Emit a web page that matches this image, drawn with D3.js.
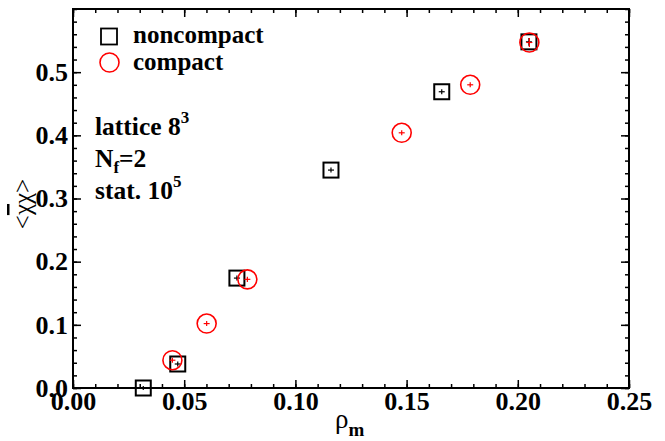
<!DOCTYPE html>
<html>
<head>
<meta charset="utf-8">
<script src="https://cdn.jsdelivr.net/npm/d3@7"></script>
<style>
  html, body { margin: 0; padding: 0; background: #fff; }
  svg { display: block; }
  text { font-family: "Liberation Serif", "Times New Roman", serif; }
</style>
</head>
<body>
<svg id="chart" width="665" height="441"></svg>
<script>
// Chiral condensate vs. monopole density, two lattice actions
const noncompactRho   = [0.0316, 0.0471, 0.0737, 0.1160, 0.1658, 0.2050];
const noncompactChi   = [0.000, 0.038, 0.174, 0.345, 0.469, 0.548];
const noncompactErr   = [0.003, 0.004, 0.004, 0.004, 0.004, 0.006];

const compactRho      = [0.0447, 0.0601, 0.0784, 0.1478, 0.1786, 0.2052];
const compactChi      = [0.044, 0.102, 0.172, 0.404, 0.480, 0.547];
const compactErr      = [0.004, 0.004, 0.004, 0.004, 0.004, 0.007];

const xMajorTicks = [0, 0.05, 0.10, 0.15, 0.20, 0.25];
const yMajorTicks = [0, 0.1, 0.2, 0.3, 0.4, 0.5];

const svg = d3.select("#chart");
const L = 73, R = 629, T = 9, B = 388;

const x = d3.scaleLinear().domain([0, 0.25]).range([L, R]);
const y = d3.scaleLinear().domain([0, 0.6]).range([B, T]);

const xMinor = d3.range(0, 0.2501, 0.01).map(v => +v.toFixed(2));
const yMinor = d3.range(0, 0.6001, 0.02).map(v => +v.toFixed(2));

function styleAxis(g) {
  g.select(".domain").remove();
  g.selectAll(".tick line").attr("stroke", "#000").attr("stroke-width", 1.5);
  g.selectAll(".tick text")
    .attr("fill", "#000")
    .style("font-family", "'Liberation Serif', serif")
    .style("font-weight", "bold")
    .style("font-size", "26px");
}

// minor ticks (inward) on all four sides
svg.append("g").attr("transform", `translate(0,${B})`)
  .call(d3.axisBottom(x).tickValues(xMinor).tickSize(-4).tickFormat(""))
  .call(styleAxis);
svg.append("g").attr("transform", `translate(0,${T})`)
  .call(d3.axisTop(x).tickValues(xMinor).tickSize(-4).tickFormat(""))
  .call(styleAxis);
svg.append("g").attr("transform", `translate(${L},0)`)
  .call(d3.axisLeft(y).tickValues(yMinor).tickSize(-4).tickFormat(""))
  .call(styleAxis);
svg.append("g").attr("transform", `translate(${R},0)`)
  .call(d3.axisRight(y).tickValues(yMinor).tickSize(-4).tickFormat(""))
  .call(styleAxis);

// major ticks with labels
svg.append("g").attr("transform", `translate(0,${B})`)
  .call(d3.axisBottom(x).tickValues(xMajorTicks).tickSize(-8).tickPadding(4)
    .tickFormat(d3.format(".2f")))
  .call(styleAxis);
svg.append("g").attr("transform", `translate(0,${T})`)
  .call(d3.axisTop(x).tickValues(xMajorTicks).tickSize(-8).tickFormat(""))
  .call(styleAxis);
svg.append("g").attr("transform", `translate(${L},0)`)
  .call(d3.axisLeft(y).tickValues(yMajorTicks).tickSize(-8).tickPadding(5)
    .tickFormat(d3.format(".1f")))
  .call(styleAxis);
svg.append("g").attr("transform", `translate(${R},0)`)
  .call(d3.axisRight(y).tickValues(yMajorTicks).tickSize(-8).tickFormat(""))
  .call(styleAxis);

// frame
svg.append("rect")
  .attr("x", L).attr("y", T).attr("width", R - L).attr("height", B - T)
  .attr("fill", "none").attr("stroke", "#000").attr("stroke-width", 2);

// data
const noncompact = noncompactRho.map((r, i) => ({ r, c: noncompactChi[i], e: noncompactErr[i] }));
const compact = compactRho.map((r, i) => ({ r, c: compactChi[i], e: compactErr[i] }));

function errorBars(data, color) {
  const g = svg.append("g").attr("stroke", color).attr("stroke-width", 1.2);
  data.forEach(d => {
    g.append("line").attr("x1", x(d.r)).attr("x2", x(d.r))
      .attr("y1", y(d.c - d.e)).attr("y2", y(d.c + d.e));
    g.append("line").attr("x1", x(d.r) - 3).attr("x2", x(d.r) + 3)
      .attr("y1", y(d.c)).attr("y2", y(d.c));
  });
}

const sq = 15;
svg.append("g").selectAll("rect").data(noncompact).join("rect")
  .attr("x", d => x(d.r) - sq / 2).attr("y", d => y(d.c) - sq / 2)
  .attr("width", sq).attr("height", sq)
  .attr("fill", "none").attr("stroke", "#000").attr("stroke-width", 2);
errorBars(noncompact, "#000");

svg.append("g").selectAll("circle").data(compact).join("circle")
  .attr("cx", d => x(d.r)).attr("cy", d => y(d.c)).attr("r", 9.5)
  .attr("fill", "none").attr("stroke", "#ff0000").attr("stroke-width", 1.6);
errorBars(compact, "#ff0000");

// legend
const leg = svg.append("g");
leg.append("rect").attr("x", 109 - 8).attr("y", 36.5 - 8).attr("width", 16).attr("height", 16)
  .attr("fill", "none").attr("stroke", "#000").attr("stroke-width", 1.8);
leg.append("circle").attr("cx", 109.5).attr("cy", 62.5).attr("r", 9.5)
  .attr("fill", "none").attr("stroke", "#ff0000").attr("stroke-width", 1.6);
leg.append("text").attr("x", 133).attr("y", 43).text("noncompact")
  .style("font-weight", "bold").style("font-size", "25px");
leg.append("text").attr("x", 133).attr("y", 70).text("compact")
  .style("font-weight", "bold").style("font-size", "25px");

// run parameters
const info = svg.append("g").style("font-weight", "bold").style("font-size", "25.5px");
const t1 = info.append("text").attr("x", 95).attr("y", 135);
t1.append("tspan").text("lattice 8");
t1.append("tspan").attr("dy", -12).style("font-size", "17px").text("3");
const t2 = info.append("text").attr("x", 95).attr("y", 167);
t2.append("tspan").text("N");
t2.append("tspan").attr("dy", 6).style("font-size", "17px").text("f");
t2.append("tspan").attr("dy", -6).text("=2");
const t3 = info.append("text").attr("x", 95).attr("y", 199);
t3.append("tspan").text("stat. 10");
t3.append("tspan").attr("dy", -12).style("font-size", "17px").text("5");

// axis titles
const xt = svg.append("text").attr("x", 335).attr("y", 428).style("font-size", "27px");
xt.append("tspan").text("ρ");
xt.append("tspan").attr("dy", 8).style("font-size", "19px").style("font-weight", "bold").text("m");

const yt = svg.append("text")
  .attr("transform", "translate(31,204) rotate(-90)")
  .attr("text-anchor", "middle")
  .style("font-size", "25px");
yt.append("tspan").text("<");
yt.append("tspan").style("text-decoration", "overline").text("χ");
yt.append("tspan").text("χ>");
</script>
</body>
</html>
